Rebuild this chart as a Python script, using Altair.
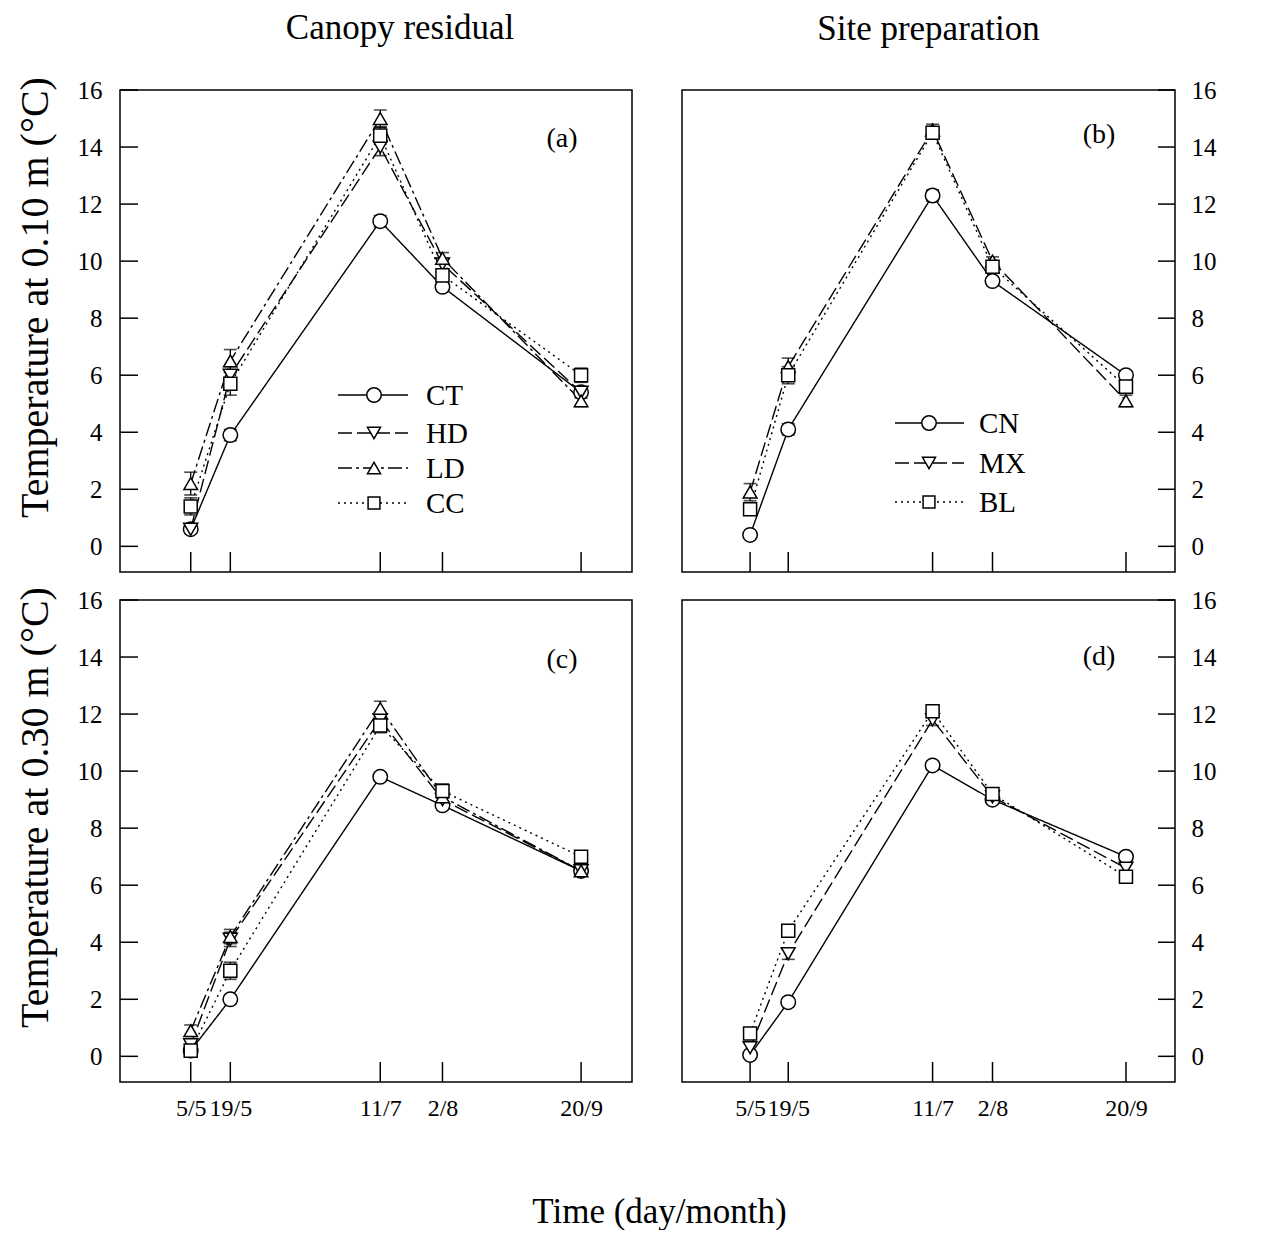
import altair as alt
import pandas as pd

FONT = "Liberation Serif"

# ---- axes -------------------------------------------------------------
DAYS = [125, 139, 192, 214, 263]            # day of year of each sampling date
DATE_LABELS = ["5/5", "19/5", "11/7", "2/8", "20/9"]
X_DOMAIN = [100, 281]
Y_DOMAIN = [-0.9, 16]
Y_TICKS = [0, 2, 4, 6, 8, 10, 12, 14, 16]

CANOPY = ["CT", "HD", "LD", "CC"]
SITE = ["CN", "MX", "BL"]

# ---- (a) 0.10 m, canopy residual --------------------------------------
A_CT = [0.6, 3.9, 11.4, 9.1, 5.4]
A_HD = [0.6, 6.0, 14.0, 9.9, 5.4]
A_LD = [2.2, 6.5, 15.0, 10.1, 5.1]
A_CC = [1.4, 5.7, 14.4, 9.5, 6.0]
A_CT_SE = [0.10, 0.20, 0.20, 0.15, 0.15]
A_HD_SE = [0.15, 0.30, 0.30, 0.20, 0.20]
A_LD_SE = [0.40, 0.40, 0.30, 0.20, 0.20]
A_CC_SE = [0.30, 0.40, 0.30, 0.20, 0.25]

# ---- (b) 0.10 m, site preparation -------------------------------------
B_CN = [0.4, 4.1, 12.3, 9.3, 6.0]
B_MX = [1.9, 6.3, 14.6, 10.0, 5.1]
B_BL = [1.3, 6.0, 14.5, 9.8, 5.6]
B_CN_SE = [0.10, 0.20, 0.20, 0.15, 0.15]
B_MX_SE = [0.30, 0.30, 0.20, 0.15, 0.20]
B_BL_SE = [0.20, 0.30, 0.20, 0.15, 0.20]

# ---- (c) 0.30 m, canopy residual --------------------------------------
C_CT = [0.2, 2.0, 9.8, 8.8, 6.5]
C_HD = [0.4, 4.1, 11.8, 9.0, 6.5]
C_LD = [0.9, 4.2, 12.2, 9.1, 6.5]
C_CC = [0.2, 3.0, 11.6, 9.3, 7.0]
C_CT_SE = [0.10, 0.15, 0.15, 0.15, 0.10]
C_HD_SE = [0.15, 0.25, 0.25, 0.20, 0.15]
C_LD_SE = [0.20, 0.25, 0.25, 0.20, 0.15]
C_CC_SE = [0.15, 0.30, 0.25, 0.25, 0.15]

# ---- (d) 0.30 m, site preparation -------------------------------------
D_CN = [0.05, 1.9, 10.2, 9.0, 7.0]
D_MX = [0.3, 3.6, 11.8, 9.1, 6.6]
D_BL = [0.8, 4.4, 12.1, 9.2, 6.3]
D_CN_SE = [0.10, 0.15, 0.15, 0.10, 0.15]
D_MX_SE = [0.15, 0.20, 0.20, 0.15, 0.15]
D_BL_SE = [0.15, 0.20, 0.20, 0.15, 0.15]

# ---- styles -----------------------------------------------------------
CANOPY_DASH = [[1, 0], [14, 5], [14, 4, 3, 4], [2, 4]]
CANOPY_SHAPE = ["circle", "triangle-down", "triangle-up", "square"]
CANOPY_SIZE = [210, 170, 170, 140]
SITE_DASH = [[1, 0], [14, 5], [2, 4]]
SITE_SHAPE_B = ["circle", "triangle-up", "square"]
SITE_SHAPE = ["circle", "triangle-down", "square"]
SITE_SIZE = [210, 170, 140]

LABEL_EXPR = " : ".join(
    f"datum.value == {d} ? '{l}'" for d, l in zip(DAYS, DATE_LABELS)
) + " : ''"


def make_df(series, values, errs):
    rows = []
    for s, vals, es in zip(series, values, errs):
        for d, v, e in zip(DAYS, vals, es):
            rows.append({"series": s, "day": d, "temp": v, "lo": v - e, "hi": v + e})
    return pd.DataFrame(rows)


W_L, W_R, H = 512, 493, 482


def panel(df, series, dashes, shapes, sizes, leg_shapes, tag, tag_xy, width,
          left, ytitle, xlabels, legend, title=None, title_dx=0):
    xscale = alt.Scale(domain=X_DOMAIN, nice=False, zero=False)
    yscale = alt.Scale(domain=Y_DOMAIN, nice=False, zero=False)
    if xlabels:
        xaxis = alt.Axis(values=DAYS, labelExpr=LABEL_EXPR, ticks=False, domain=False,
                         grid=False, labelFont=FONT, labelFontSize=24, labelColor="black",
                         labelPadding=14, labelOverlap=False, labelFlush=False, title=None)
    else:
        xaxis = None
    ykw = dict(orient="left" if left else "right", values=Y_TICKS, ticks=False,
               domain=False, grid=False, labelFont=FONT, labelFontSize=25,
               labelColor="black", labelPadding=18 if left else 16,
               labelOverlap=False, labelFlush=False)
    if left:
        ykw.update(title=ytitle, titleFont=FONT, titleFontSize=40,
                   titleFontWeight="normal", titleColor="black", titlePadding=22,
                   titleY=207)
    else:
        ykw.update(title=None)
    yaxis = alt.Axis(**ykw)

    def X(f="day"):
        return alt.X(f"{f}:Q", scale=xscale, axis=xaxis)

    def Y(f="temp"):
        return alt.Y(f"{f}:Q", scale=yscale, axis=yaxis)

    layers = []
    layers.append(
        alt.Chart(df).mark_line(color="black", strokeWidth=1.4).encode(
            x=X(), y=Y(),
            strokeDash=alt.StrokeDash("series:N", scale=alt.Scale(domain=series, range=dashes), legend=None),
            detail="series:N",
        )
    )
    layers.append(
        alt.Chart(df).mark_rule(color="black", strokeWidth=1.3).encode(x=X(), y=Y("lo"), y2="hi:Q")
    )
    for f in ["lo", "hi"]:
        layers.append(
            alt.Chart(df).mark_tick(color="black", orient="horizontal", size=13, thickness=1.6).encode(
                x=X(), y=Y(f)
            )
        )
    layers.append(
        alt.Chart(df).mark_point(filled=True, fill="white", stroke="black", strokeWidth=1.5,
                                 fillOpacity=1, opacity=1).encode(
            x=X(), y=Y(),
            shape=alt.Shape("series:N", scale=alt.Scale(domain=series, range=shapes), legend=None),
            size=alt.Size("series:N", scale=alt.Scale(domain=series, range=sizes), legend=None),
        )
    )
    # inward ticks
    layers.append(
        alt.Chart(pd.DataFrame({"day": DAYS})).mark_rule(color="black", strokeWidth=1.5).encode(
            x=X(), y=alt.value(H), y2=alt.value(H - 20)
        )
    )
    if left:
        tx, tx2 = 0, 18
    else:
        tx, tx2 = width - 17, width
    layers.append(
        alt.Chart(pd.DataFrame({"temp": Y_TICKS})).mark_rule(color="black", strokeWidth=1.5).encode(
            y=Y(), x=alt.value(tx), x2=alt.value(tx2)
        )
    )
    # panel tag
    layers.append(
        alt.Chart(pd.DataFrame({"tag": [tag]})).mark_text(font=FONT, fontSize=28, color="black").encode(
            x=alt.value(tag_xy[0]), y=alt.value(tag_xy[1]), text="tag:N"
        )
    )
    # in-plot legend
    if legend is not None:
        lx0, lx1, mx, txx, ys = legend
        for s, dash, shp, sz, yy in zip(series, dashes, leg_shapes, sizes, ys):
            one = pd.DataFrame({"series": [s]})
            layers.append(
                alt.Chart(one).mark_rule(color="black", strokeWidth=1.4, strokeDash=dash).encode(
                    x=alt.value(lx0), x2=alt.value(lx1), y=alt.value(yy)
                )
            )
            layers.append(
                alt.Chart(one).mark_point(filled=True, fill="white", stroke="black", strokeWidth=1.5,
                                          shape=shp, size=sz, opacity=1).encode(
                    x=alt.value(mx), y=alt.value(yy)
                )
            )
            layers.append(
                alt.Chart(one).mark_text(font=FONT, fontSize=29, color="black", align="left",
                                         baseline="middle").encode(
                    x=alt.value(txx), y=alt.value(yy + 1), text="series:N"
                )
            )
    props = dict(width=width, height=H)
    if title is not None:
        props["title"] = alt.TitleParams(title, font=FONT, fontSize=35, fontWeight="normal",
                                         color="black", anchor="middle", frame="group",
                                         dx=title_dx, offset=31)
    return alt.layer(*layers).properties(**props)


df_a = make_df(CANOPY, [A_CT, A_HD, A_LD, A_CC], [A_CT_SE, A_HD_SE, A_LD_SE, A_CC_SE])
df_b = make_df(SITE, [B_CN, B_MX, B_BL], [B_CN_SE, B_MX_SE, B_BL_SE])
df_c = make_df(CANOPY, [C_CT, C_HD, C_LD, C_CC], [C_CT_SE, C_HD_SE, C_LD_SE, C_CC_SE])
df_d = make_df(SITE, [D_CN, D_MX, D_BL], [D_CN_SE, D_MX_SE, D_BL_SE])

pa = panel(df_a, CANOPY, CANOPY_DASH, CANOPY_SHAPE, CANOPY_SIZE, CANOPY_SHAPE, "(a)", (442, 49), W_L,
           True, "Temperature at 0.10 m (°C)", False,
           (218, 288, 254, 306, [305, 343, 378, 413]), title="Canopy residual", title_dx=24)
pb = panel(df_b, SITE, SITE_DASH, SITE_SHAPE_B, SITE_SIZE, SITE_SHAPE, "(b)", (417, 45), W_R,
           False, None, False,
           (213, 282, 247, 297, [333, 373, 412]), title="Site preparation")
pc = panel(df_c, CANOPY, CANOPY_DASH, CANOPY_SHAPE, CANOPY_SIZE, CANOPY_SHAPE, "(c)", (442, 60), W_L,
           True, "Temperature at 0.30 m (°C)", True, None)
pd_ = panel(df_d, SITE, SITE_DASH, SITE_SHAPE, SITE_SIZE, SITE_SHAPE, "(d)", (417, 57), W_R,
            False, None, True, None)

IND = dict(shape="independent", strokeDash="independent", size="independent")

top = alt.hconcat(pa, pb, spacing=48).resolve_scale(**IND)
bottom = alt.hconcat(pc, pd_, spacing=48).resolve_scale(**IND)

chart = alt.vconcat(
    top, bottom, spacing=11,
    title=alt.TitleParams("Time (day/month)", orient="bottom", anchor="middle", font=FONT,
                          fontSize=35, fontWeight="normal", color="black", offset=74, dx=44),
).resolve_scale(**IND).properties(
    padding={"left": 6, "top": 1, "right": 0, "bottom": 0}
).configure_view(stroke="black", strokeWidth=1.5)

chart.save("out.html", embed_options={"renderer": "svg", "actions": False})
